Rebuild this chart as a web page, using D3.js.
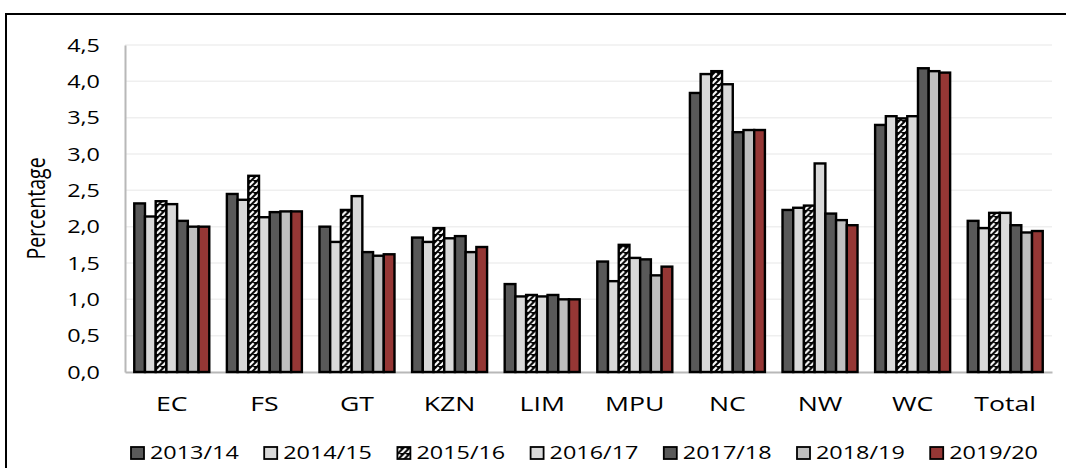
<!DOCTYPE html>
<html>
<head>
<meta charset="utf-8">
<script src="https://cdn.jsdelivr.net/npm/d3@7"></script>
<style>
  html, body { margin: 0; padding: 0; background: #fff; }
  svg { display: block; }
  text { font-family: "Open Sans", "Liberation Sans", sans-serif; fill: #000; }
</style>
</head>
<body>
<svg id="chart" width="1066" height="468"></svg>
<script>
// Provinces along the x axis
const categories = ["EC", "FS", "GT", "KZN", "LIM", "MPU", "NC", "NW", "WC", "Total"];
// Financial years (one bar per year in each province group)
const years = ["2013/14", "2014/15", "2015/16", "2016/17", "2017/18", "2018/19", "2019/20"];
// Percentage values per year, in province order
const v2013 = [2.32, 2.45, 2.00, 1.85, 1.21, 1.52, 3.84, 2.23, 3.40, 2.08];
const v2014 = [2.14, 2.37, 1.79, 1.79, 1.04, 1.25, 4.10, 2.26, 3.52, 1.98];
const v2015 = [2.35, 2.70, 2.23, 1.98, 1.06, 1.75, 4.14, 2.29, 3.49, 2.19];
const v2016 = [2.31, 2.13, 2.42, 1.84, 1.04, 1.57, 3.96, 2.87, 3.52, 2.19];
const v2017 = [2.08, 2.20, 1.65, 1.87, 1.06, 1.55, 3.30, 2.18, 4.18, 2.02];
const v2018 = [2.00, 2.21, 1.60, 1.65, 1.00, 1.33, 3.33, 2.09, 4.14, 1.92];
const v2019 = [2.00, 2.21, 1.62, 1.72, 1.00, 1.45, 3.33, 2.02, 4.12, 1.94];
const yTicks = [0, 0.5, 1.0, 1.5, 2.0, 2.5, 3.0, 3.5, 4.0, 4.5];

const seriesValues = [v2013, v2014, v2015, v2016, v2017, v2018, v2019];
const fills = ["#595959", "#d9d9d9", "url(#hatch)", "#d9d9d9", "#595959", "#bfbfbf", "#953735"];

const svg = d3.select("#chart");
const margin = { left: 125, right: 14, top: 45, bottom: 96 };
const W = 1066, H = 468;
const TXS = 1.3; // horizontal text stretch

// Hatched fill used by the 2015/16 series
const defs = svg.append("defs");
const pat = defs.append("pattern")
  .attr("id", "hatch").attr("patternUnits", "userSpaceOnUse")
  .attr("width", 6).attr("height", 6);
pat.append("rect").attr("width", 6).attr("height", 6).attr("fill", "#000");
pat.append("path").attr("d", "M-1,5 L2,2 M4,6 L7,3")
  .attr("stroke", "#fff").attr("stroke-width", 2.2).attr("stroke-linecap", "square");

// Outer frame
svg.append("rect").attr("x", 6).attr("y", 14).attr("width", 1080).attr("height", 480)
  .attr("fill", "none").attr("stroke", "#000").attr("stroke-width", 2);

const x0 = d3.scaleBand().domain(categories)
  .range([margin.left, W - margin.right]).paddingInner(0.19).paddingOuter(0.1);
const x1 = d3.scaleBand().domain(years).range([0, x0.bandwidth()]);
const y = d3.scaleLinear().domain([0, 4.5]).range([H - margin.bottom, margin.top]);

// Gridlines
svg.append("g").selectAll("line").data(yTicks.filter(d => d > 0)).join("line")
  .attr("x1", margin.left).attr("x2", W - margin.right)
  .attr("y1", d => y(d)).attr("y2", d => y(d))
  .attr("stroke", "#efefef").attr("stroke-width", 1.5);

// Y axis
const yAxis = svg.append("g").attr("transform", `translate(${margin.left},0)`)
  .call(d3.axisLeft(y).tickValues(yTicks).tickSize(0).tickPadding(0)
    .tickFormat(d => d3.format(".1f")(d).replace(".", ",")));
yAxis.select(".domain").attr("stroke", "#b8b8b8").attr("stroke-width", 2);
yAxis.selectAll("text")
  .attr("font-size", 18).attr("x", 0).attr("dy", "0.35em")
  .attr("transform", `translate(-25,0) scale(${TXS},1)`)
  .attr("font-family", "Open Sans");

// X axis
const xAxis = svg.append("g").attr("transform", `translate(0,${H - margin.bottom})`)
  .call(d3.axisBottom(x0).tickSize(0).tickPadding(0));
xAxis.select(".domain").attr("stroke", "#b8b8b8").attr("stroke-width", 2);
xAxis.selectAll("text")
  .attr("font-size", 20.5).attr("y", 0).attr("dy", 0).attr("x", 0)
  .attr("text-anchor", "middle")
  .attr("transform", `translate(0,39) scale(${TXS},1)`);

// Y axis title
svg.append("text")
  .attr("transform", `translate(45,${(margin.top + H - margin.bottom) / 2}) rotate(-90) scale(1,${TXS})`)
  .attr("text-anchor", "middle").attr("font-size", 19.5)
  .text("Percentage");

// Bars
const groups = svg.append("g").selectAll("g").data(categories).join("g")
  .attr("transform", d => `translate(${x0(d)},0)`);
groups.selectAll("rect")
  .data((c, ci) => years.map((yr, si) => ({ yr, si, v: seriesValues[si][ci] })))
  .join("rect")
  .attr("x", d => x1(d.yr))
  .attr("width", x1.bandwidth())
  .attr("y", d => y(d.v))
  .attr("height", d => y(0) - y(d.v))
  .attr("fill", d => fills[d.si])
  .attr("stroke", "#000").attr("stroke-width", 2.4);

// Legend
const legend = svg.append("g").attr("transform", "translate(131,447)");
const item = legend.selectAll("g").data(years).join("g")
  .attr("transform", (d, i) => `translate(${i * 133.2},0)`);
item.append("rect").attr("width", 13).attr("height", 12)
  .attr("fill", (d, i) => fills[i]).attr("stroke", "#000").attr("stroke-width", 1.8);
item.append("text")
  .attr("transform", `translate(19,12) scale(${TXS},1)`)
  .attr("font-size", 18).text(d => d);
</script>
</body>
</html>
